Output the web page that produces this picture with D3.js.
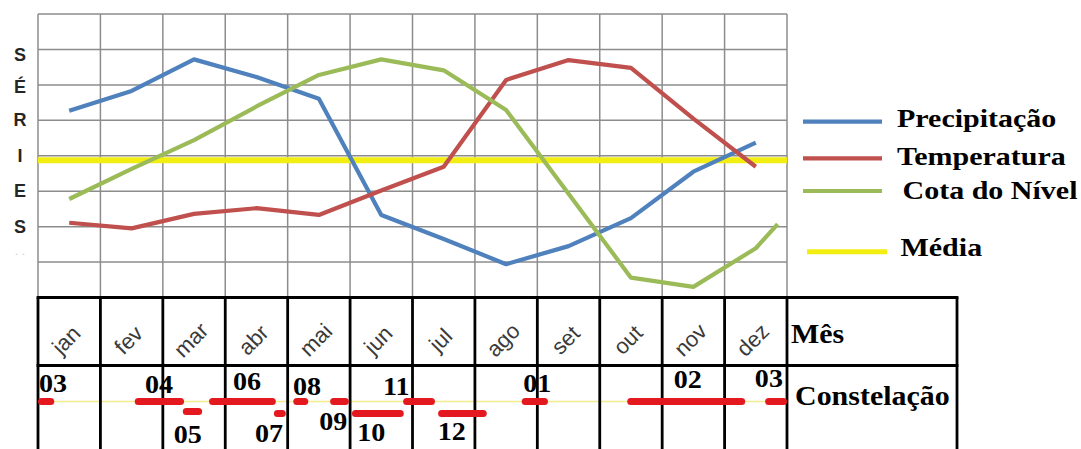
<!DOCTYPE html>
<html>
<head>
<meta charset="utf-8">
<script src="https://cdn.jsdelivr.net/npm/d3@7"></script>
<style>
  html, body { margin: 0; padding: 0; background: #fff; }
  svg { display: block; }
</style>
</head>
<body>
<svg id="chart" width="1081" height="449"></svg>
<script>
// ---------------- DATA ----------------
const months = ["jan","fev","mar","abr","mai","jun","jul","ago","set","out","nov","dez"];
const precipitacao = [5.27, 5.83, 6.72, 6.22, 5.61, 2.33, 1.65, 0.94, 1.45, 2.24, 3.55, 4.37];
const temperatura  = [2.11, 1.95, 2.36, 2.52, 2.33, 3.02, 3.69, 6.14, 6.70, 6.48, 5.05, 3.69];
const cotaNivel    = [2.78, 3.63, 4.44, 5.39, 6.28, 6.72, 6.41, 5.29, 2.93, 0.56, 0.30, 1.39];
const cotaExtraPos = [11.85];
const cotaExtraVal = [2.07];
const media = 3.87;
const axisLetters = ["S","É","R","I","E","S"];
const axisLetterPos = [6.85, 5.95, 5.0, 4.0, 3.0, 2.0];
const seriesNames = ["Precipitação","Temperatura","Cota do Nível","Média"];

// constellation labels (position in month units) and periods (start/end in month units)
const constLabels = ["03","04","06","08","11","01","02","03","05","07","09","10","12"];
const constLabelPos = [0.24, 1.94, 3.35, 4.31, 5.74, 8.0, 10.41, 11.71, 2.40, 3.70, 4.73, 5.34, 6.63];
const constUpperStart = [0.0, 1.55, 2.74, 4.09, 4.68, 5.85, 7.75, 9.44, 11.65];
const constUpperEnd   = [0.26, 2.34, 3.81, 4.33, 4.98, 6.36, 8.17, 11.33, 12.0];
const constLowerStart = [2.32, 3.78, 5.03, 6.41];
const constLowerEnd   = [2.63, 3.97, 5.86, 7.19];

// ---------------- LAYOUT ----------------
const svg = d3.select("#chart");
const x = d3.scaleLinear().domain([0, 12]).range([38, 787]);
const y = d3.scaleLinear().domain([0, 8]).range([297.5, 14]);
const colors = { p: "#4f81bd", t: "#c0504d", c: "#9bbb59", m: "#f2ee12" };
const serif = "'Liberation Serif', 'Times New Roman', serif";
const sans = "'Liberation Sans', Arial, sans-serif";

// grid
const grid = svg.append("g");
grid.selectAll("line.h").data(d3.range(0, 9)).join("line")
  .attr("x1", x(0)).attr("x2", x(12))
  .attr("y1", d => y(d)).attr("y2", d => y(d))
  .attr("stroke", "#8c8c8c").attr("stroke-width", 1.5);
grid.selectAll("line.v").data(d3.range(0, 13)).join("line")
  .attr("x1", d => x(d)).attr("x2", d => x(d))
  .attr("y1", y(8)).attr("y2", y(0))
  .attr("stroke", "#8c8c8c").attr("stroke-width", 1.5);

// Y letters
svg.append("g").selectAll("text").data(axisLetters).join("text")
  .attr("x", 20).attr("y", (d, i) => y(axisLetterPos[i]))
  .attr("text-anchor", "middle").attr("dominant-baseline", "central")
  .attr("font-family", sans).attr("font-weight", "bold")
  .attr("font-size", 18).attr("fill", "#262626")
  .text(d => d);
svg.append("text").attr("x", 20).attr("y", 258).attr("text-anchor", "middle")
  .attr("font-size", 12).attr("fill", "#cfcfcf").text("· ·");

// media line
svg.append("line")
  .attr("x1", x(0)).attr("x2", x(12)).attr("y1", y(media)).attr("y2", y(media))
  .attr("stroke", colors.m).attr("stroke-width", 6);

// series lines
const line = d3.line().x(d => x(d[0])).y(d => y(d[1]));
function pts(arr) { return arr.map((v, i) => [i + 0.5, v]); }
const cotaPts = pts(cotaNivel).concat(cotaExtraPos.map((p, i) => [p, cotaExtraVal[i]]));
[[pts(precipitacao), colors.p], [pts(temperatura), colors.t], [cotaPts, colors.c]].forEach(([d, c]) => {
  svg.append("path").datum(d).attr("d", line)
    .attr("fill", "none").attr("stroke", c).attr("stroke-width", 4.2)
    .attr("stroke-linejoin", "round");
});

// legend
const legY = [121.7, 158.3, 191, 251.7];
const legTextY = [127, 165, 198.5, 256];
const legTextX = [897, 897, 902.5, 900.5];
const legColors = [colors.p, colors.t, colors.c, colors.m];
const leg = svg.append("g");
seriesNames.forEach((n, i) => {
  leg.append("line")
    .attr("x1", i === 3 ? 807 : 803).attr("x2", i === 3 ? 887 : 882)
    .attr("y1", legY[i]).attr("y2", legY[i])
    .attr("stroke", legColors[i]).attr("stroke-width", i === 3 ? 5 : 4.2);
  leg.append("text")
    .attr("transform", `translate(${legTextX[i]},${legTextY[i]}) scale(1.2,1)`)
    .attr("font-family", serif)
    .attr("font-weight", "bold").attr("font-size", 25).attr("fill", "#000")
    .text(n);
});

// ---------------- TABLE ----------------
const tTop = 297.5, tMid = 365.5, tBot = 452;
const table = svg.append("g");

// thin yellow line in constellation row
table.append("line").attr("x1", x(0)).attr("x2", x(12)).attr("y1", 401.5).attr("y2", 401.5)
  .attr("stroke", "#f1ec8e").attr("stroke-width", 1.3);

// month labels
table.selectAll("text.m").data(months).join("text")
  .attr("transform", (d, i) => `translate(${x(i + 0.5) - 3},340) rotate(-45)`)
  .attr("text-anchor", "middle").attr("dominant-baseline", "central")
  .attr("font-family", sans)
  .attr("font-size", 22).attr("fill", "#3a3a3a")
  .text(d => d);

// borders
const bw = 2.8;
d3.range(0, 13).forEach(i => {
  table.append("line").attr("x1", x(i)).attr("x2", x(i)).attr("y1", tTop).attr("y2", tBot)
    .attr("stroke", "#000").attr("stroke-width", bw);
});
table.append("line").attr("x1", 957).attr("x2", 957).attr("y1", tTop).attr("y2", tBot)
  .attr("stroke", "#000").attr("stroke-width", bw);
[tTop, tMid].forEach(yy => {
  table.append("line").attr("x1", x(0) - 1.4).attr("x2", 958.4).attr("y1", yy).attr("y2", yy)
    .attr("stroke", "#000").attr("stroke-width", bw);
});

// constellation dashes
const dashes = svg.append("g");
constUpperStart.forEach((s, i) => {
  dashes.append("line")
    .attr("x1", x(s) + 3.5).attr("x2", x(constUpperEnd[i]) - 3.5)
    .attr("y1", 401.5).attr("y2", 401.5)
    .attr("stroke", "#e3191f").attr("stroke-width", 7).attr("stroke-linecap", "round");
});
constLowerStart.forEach((s, i) => {
  dashes.append("line")
    .attr("x1", x(s) + 3.5).attr("x2", x(constLowerEnd[i]) - 3.5)
    .attr("y1", i === 0 ? 411.5 : 413.5).attr("y2", i === 0 ? 411.5 : 413.5)
    .attr("stroke", "#e3191f").attr("stroke-width", 7).attr("stroke-linecap", "round");
});

// constellation labels
const constBase = [392, 393, 390, 395, 395, 392, 388, 387, 443, 442, 430, 441, 440];
constLabels.forEach((l, i) => {
  svg.append("text")
    .attr("transform", `translate(${x(constLabelPos[i])},${constBase[i]}) scale(1.08,1)`)
    .attr("text-anchor", "middle")
    .attr("font-family", serif)
    .attr("font-weight", "bold").attr("font-size", 26).attr("fill", "#000")
    .text(l);
});

// row headers
svg.append("text").attr("transform", "translate(791,343) scale(1.07,1)")
  .attr("font-family", serif)
  .attr("font-weight", "bold").attr("font-size", 28).text("Mês");
svg.append("text").attr("transform", "translate(795,405) scale(1.07,1)")
  .attr("font-family", serif)
  .attr("font-weight", "bold").attr("font-size", 28).text("Constelação");
</script>
</body>
</html>
